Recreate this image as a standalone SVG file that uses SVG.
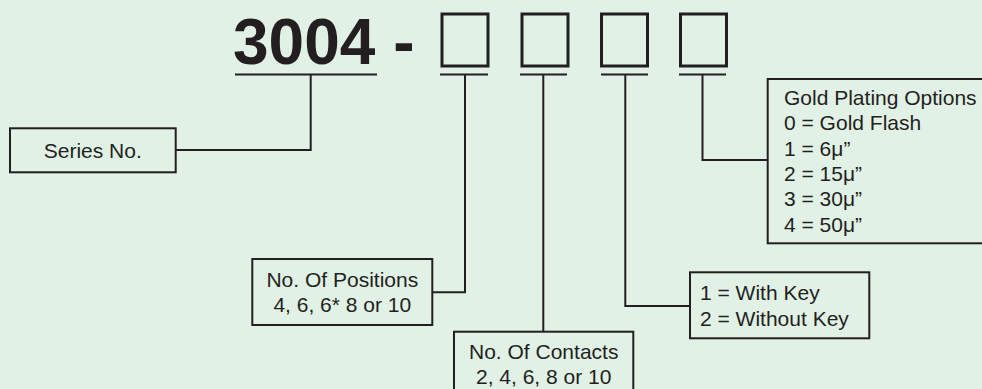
<svg xmlns="http://www.w3.org/2000/svg" width="982" height="389" viewBox="0 0 982 389">
  <style>
    .bg { fill: #e1f1e6; }
    .box { fill: none; stroke: #231f20; stroke-width: 2; }
    .sq { fill: none; stroke: #231f20; stroke-width: 3; }
    .ln { fill: none; stroke: #231f20; stroke-width: 2; }
    .t { font-family: "Liberation Sans", Arial, sans-serif; font-size: 21px; fill: #231f20; }
    .c { text-anchor: middle; }
    .big { font-family: "Liberation Sans", Arial, sans-serif; font-size: 64px; font-weight: bold; fill: #231f20; }
  </style>
  <rect class="bg" x="0" y="0" width="982" height="389"/>

  <g id="part-number">
    <text class="big" x="233" y="64" xml:space="preserve">3004 -</text>
    <rect class="sq" x="442" y="14" width="46" height="52"/>
    <rect class="sq" x="522" y="14" width="46" height="52"/>
    <rect class="sq" x="601.5" y="14" width="46" height="52"/>
    <rect class="sq" x="680.5" y="14" width="46" height="52"/>
    <line class="ln" x1="235" y1="74.5" x2="377" y2="74.5"/>
    <line class="ln" x1="440" y1="74.5" x2="488" y2="74.5"/>
    <line class="ln" x1="520" y1="74.5" x2="567" y2="74.5"/>
    <line class="ln" x1="601" y1="74.5" x2="648" y2="74.5"/>
    <line class="ln" x1="679" y1="74.5" x2="726" y2="74.5"/>
  </g>

  <g id="connectors">
    <polyline class="ln" points="310.7,75 310.7,150 175.7,150"/>
    <polyline class="ln" points="465,75 465,292.3 432.3,292.3"/>
    <polyline class="ln" points="543.3,75 543.3,331.7"/>
    <polyline class="ln" points="625.3,75 625.3,306 690,306"/>
    <polyline class="ln" points="702.5,75 702.5,160 767.7,160"/>
  </g>

  <g id="series">
    <rect class="box" x="10" y="128.3" width="165.7" height="44"/>
    <text class="t c" x="92.8" y="158">Series No.</text>
  </g>

  <g id="positions">
    <rect class="box" x="252.3" y="259" width="180" height="66"/>
    <text class="t c" x="342.3" y="287">No. Of Positions</text>
    <text class="t c" x="342.3" y="312">4, 6, 6* 8 or 10</text>
  </g>

  <g id="contacts">
    <rect class="box" x="454" y="331.7" width="179.3" height="70"/>
    <text class="t c" x="543.7" y="358.5">No. Of Contacts</text>
    <text class="t c" x="543.7" y="383.5">2, 4, 6, 8 or 10</text>
  </g>

  <g id="key">
    <rect class="box" x="690" y="272.3" width="179.3" height="66"/>
    <text class="t" x="700" y="300">1 = With Key</text>
    <text class="t" x="700" y="326">2 = Without Key</text>
  </g>

  <g id="gold">
    <rect class="box" x="767.7" y="79" width="240" height="164.3"/>
    <text class="t" x="784" y="105">Gold Plating Options</text>
    <text class="t" x="784" y="130.3">0 = Gold Flash</text>
    <text class="t" x="784" y="155.6">1 = 6μ”</text>
    <text class="t" x="784" y="180.9">2 = 15μ”</text>
    <text class="t" x="784" y="206.2">3 = 30μ”</text>
    <text class="t" x="784" y="231.5">4 = 50μ”</text>
  </g>
</svg>
